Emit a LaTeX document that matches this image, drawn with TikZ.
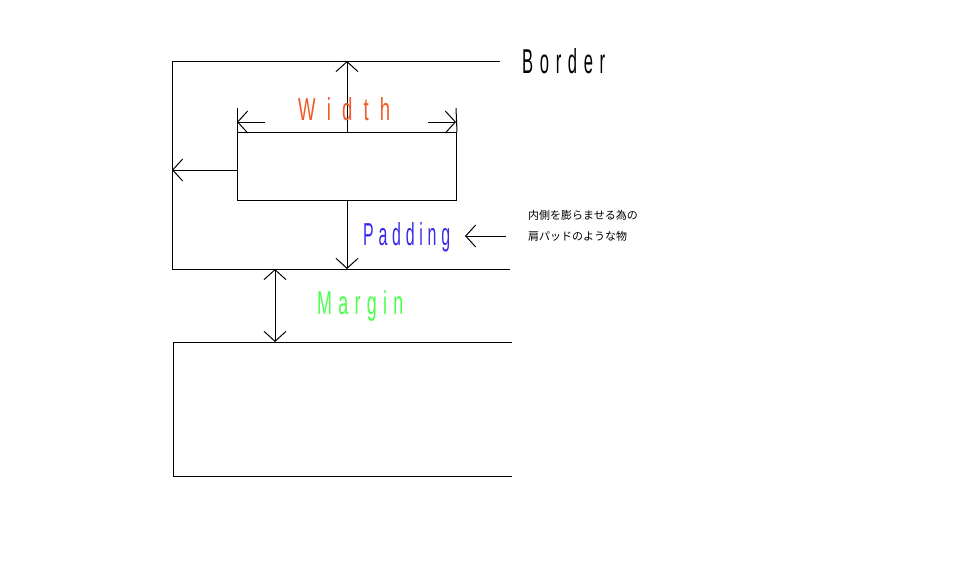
\documentclass[tikz,border=0pt]{standalone}
\usepackage{fontspec}
\usepackage{graphicx}
\setmainfont{Liberation Sans}
\newfontfamily\cjk{Noto Sans CJK JP}
\usetikzlibrary{arrows.meta}
\definecolor{worange}{HTML}{F05A28}
\definecolor{pblue}{HTML}{3A2AE8}
\definecolor{mgreen}{HTML}{4CFF4C}
\tikzset{
  ln/.style={draw=black, line width=1pt},
  ar/.style={ln, -{Straight Barb[length=10pt,width=22pt,line width=1pt]}},
  lbl/.style={anchor=base west, inner sep=0pt},
  jp/.style={anchor=base west, inner sep=0pt, font=\cjk\fontsize{11pt}{13pt}\selectfont}
}
\begin{document}
\begin{tikzpicture}[x=1pt,y=-1pt]
\useasboundingbox[fill=white] (0,0) rectangle (960,560);
% border box
\coordinate (bt1) at (500,61); \coordinate (btl) at (172,61);
\coordinate (bbl) at (172,269); \coordinate (bbr) at (510,269);
\draw[ln] (bt1) -- (btl) -- (bbl) -- (bbr);
% lower box
\coordinate (lt1) at (512,342); \coordinate (ltl) at (173,342);
\coordinate (lbl) at (173,476); \coordinate (lbr) at (512,476);
\draw[ln] (lt1) -- (ltl) -- (lbl) -- (lbr);
% inner rectangle
\node[ln, minimum width=219pt, minimum height=68pt, inner sep=0pt, anchor=north west] (box) at (237,132) {};
\coordinate (topc) at (347,132); \coordinate (toparr) at (347,61);
\draw[ar] (topc) -- (toparr);
\coordinate (botc) at (347,200); \coordinate (botarr) at (347,269);
\draw[ar] (botc) -- (botarr);
\coordinate (lc) at (237,170); \coordinate (larr) at (172,170);
\draw[ar] (lc) -- (larr);
% width ticks
\coordinate (wl1) at (237,108); \coordinate (wr1) at (456,108);
\draw[ln] (wl1) -- (box.north west);
\draw[ln] (wr1) -- (box.north east);
\coordinate (wla) at (265,122); \coordinate (wlb) at (237,122);
\coordinate (wra) at (428,122); \coordinate (wrb) at (456,122);
\draw[ar] (wla) -- (wlb);
\draw[ar] (wra) -- (wrb);
% margin
\coordinate (m1) at (275,269); \coordinate (m2) at (275,342);
\draw[ln, {Straight Barb[length=10pt,width=22pt,line width=1pt]}-{Straight Barb[length=10pt,width=22pt,line width=1pt]}] (m1) -- (m2);
% padding pointer
\coordinate (p1) at (506,236); \coordinate (p2) at (465,236);
\draw[ar] (p1) -- (p2);
% labels
\node[lbl] (border) at (522,73) {\resizebox{83pt}{25pt}{\addfontfeature{LetterSpace=40}Border}};
\node[lbl, text=worange] (width) at (298,120) {\resizebox{92pt}{23pt}{\addfontfeature{LetterSpace=60}Width}};
\node[lbl, text=pblue] (padding) at (363,245) {\resizebox{87pt}{23pt}{\addfontfeature{LetterSpace=30}Padding}};
\node[lbl, text=mgreen] (margin) at (317,314) {\resizebox{86pt}{24pt}{\addfontfeature{LetterSpace=35}Margin}};
\node[jp] (j1) at (528,219) {内側を膨らませる為の};
\node[jp] (j2) at (528,240) {肩パッドのような物};
\end{tikzpicture}
\end{document}
